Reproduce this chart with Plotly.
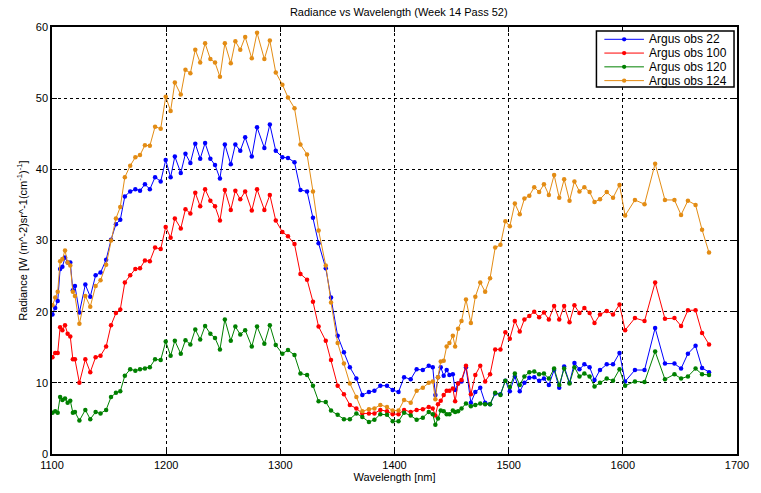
import plotly.graph_objects as go

wavelength = [
    1100.4, 1102.8, 1105.0, 1107.1, 1109.1, 1111.4, 1113.7, 1116.0, 1118.3, 1120.1,
    1124.0, 1129.2, 1133.5, 1138.2, 1142.5, 1147.4, 1151.7, 1156.0, 1159.8, 1163.8,
    1168.5, 1173.0, 1177.1, 1181.4, 1185.7, 1190.3, 1195.2, 1199.6, 1203.9, 1207.6,
    1212.8, 1216.9, 1221.2, 1225.5, 1229.8, 1234.1, 1238.7, 1242.8, 1247.1, 1251.4,
    1256.6, 1260.6, 1264.9, 1269.2, 1275.0, 1279.6, 1286.0, 1290.8, 1296.0, 1301.8,
    1306.7, 1312.4, 1317.6, 1323.4, 1328.6, 1333.5, 1339.8, 1344.4, 1350.2, 1355.7,
    1360.9, 1366.6, 1371.8, 1377.6, 1382.4, 1387.6, 1393.4, 1398.4, 1403.5, 1408.4,
    1414.2, 1419.4, 1424.8, 1430.0, 1433.5, 1435.8, 1438.1, 1440.5, 1443.1, 1445.7,
    1448.1, 1451.1, 1453.1, 1455.7, 1458.7, 1462.6, 1466.9, 1470.8, 1475.1, 1479.4,
    1483.7, 1488.2, 1492.8, 1497.1, 1501.0, 1505.4, 1509.7, 1513.8, 1518.1, 1522.4,
    1526.7, 1530.9, 1535.2, 1539.8, 1544.3, 1548.6, 1553.3, 1557.6, 1562.0, 1566.3,
    1570.9, 1575.2, 1580.0, 1585.9, 1591.4, 1597.1, 1602.0, 1610.6, 1619.0, 1628.3,
    1636.9, 1645.2, 1651.0, 1657.0, 1663.7, 1669.4, 1675.5,
]

obs22 = [
    19.6, 20.5, 21.5, 26.0, 26.3, 27.6, 26.9, 26.9, 23.0, 23.6,
    19.9, 23.8, 22.1, 25.1, 25.5, 27.3, 30.1, 32.3, 32.9, 36.2,
    36.9, 37.2, 37.0, 37.9, 37.2, 38.9, 38.3, 41.3, 38.9, 41.8,
    39.5, 42.2, 40.9, 43.6, 41.5, 43.7, 41.5, 40.6, 38.7, 43.5,
    40.7, 43.5, 42.6, 44.5, 41.8, 45.9, 43.0, 46.3, 42.6, 41.7,
    41.6, 41.0, 37.1, 36.9, 33.2, 29.6, 26.1, 22.0, 16.6, 14.3,
    12.2, 10.6, 8.3, 8.7, 8.9, 9.6, 9.6, 9.0, 8.7, 10.8,
    10.5, 11.9, 11.8, 12.4, 12.2, 8.3, 10.8, 12.2, 11.0, 11.8,
    11.1, 11.2, 9.0, 9.9, 10.2, 12.2, 7.2, 8.7, 9.3, 7.2,
    7.0, 8.5, 8.4, 10.3, 8.8, 10.9, 8.8, 10.0, 10.7, 10.8,
    10.3, 10.6, 9.7, 11.8, 9.3, 12.3, 10.0, 12.8, 11.9, 12.6,
    12.2, 10.4, 11.8, 12.6, 12.6, 14.2, 10.2, 11.8, 11.8, 17.7,
    12.7, 12.7, 12.0, 14.1, 15.2, 12.1, 11.5,
]

obs100 = [
    13.6, 14.2, 14.2, 17.8, 17.4, 18.1, 16.9, 16.5, 13.3, 13.3,
    10.0, 13.3, 11.5, 13.6, 13.8, 15.1, 18.1, 19.8, 20.3, 24.1,
    25.1, 26.0, 26.1, 27.2, 27.1, 29.0, 28.8, 31.9, 30.4, 33.1,
    31.7, 34.4, 33.8, 36.7, 34.8, 37.2, 35.6, 34.8, 32.8, 37.1,
    34.3, 37.0, 35.8, 36.9, 34.2, 37.2, 34.3, 36.4, 32.8, 31.2,
    30.6, 29.5, 25.3, 24.5, 21.4, 17.9, 15.9, 13.2, 9.6, 8.4,
    6.9, 6.4, 5.7, 5.7, 5.7, 6.2, 6.0, 5.6, 5.6, 6.2,
    5.9, 6.2, 6.3, 6.6, 6.4, 5.4, 7.0, 7.5, 8.3, 8.9,
    8.9, 9.2, 7.4, 9.9, 10.4, 12.4, 8.4, 11.1, 12.4, 10.2,
    11.2, 14.7, 14.7, 17.1, 16.2, 18.7, 17.2, 18.9, 19.4, 20.0,
    19.2, 19.9, 18.9, 20.8, 18.9, 20.8, 18.5, 20.9, 19.8, 20.5,
    19.8, 18.4, 19.6, 20.1, 19.6, 21.0, 17.4, 19.1, 18.7, 24.1,
    19.0, 19.1, 18.0, 20.2, 20.2, 17.0, 15.4,
]

obs120 = [
    5.8, 6.0, 5.8, 8.0, 7.6, 7.8, 7.2, 7.5, 5.8, 5.9,
    4.7, 6.2, 4.9, 5.9, 5.7, 6.2, 8.0, 8.6, 8.8, 11.0,
    11.9, 11.7, 11.9, 12.0, 12.2, 13.3, 13.2, 15.8, 13.8, 15.9,
    14.1, 16.0, 15.4, 17.5, 16.1, 18.0, 16.9, 16.3, 14.7, 18.9,
    15.9, 17.9, 16.8, 17.4, 15.1, 17.9, 15.5, 18.1, 15.3, 14.1,
    14.6, 13.9, 11.3, 11.1, 9.6, 7.4, 7.3, 6.1, 5.5, 4.9,
    4.9, 5.7, 5.2, 4.5, 4.8, 5.6, 5.5, 4.6, 4.6, 5.8,
    5.4, 4.8, 5.1, 5.9, 5.6, 4.1, 5.0, 6.1, 6.0, 5.6,
    5.6, 6.1, 5.9, 6.0, 6.4, 7.1, 6.7, 6.9, 7.1, 7.0,
    7.0, 8.6, 8.3, 10.3, 9.4, 11.3, 9.7, 10.9, 11.5, 11.6,
    11.2, 11.3, 10.6, 12.0, 9.7, 12.0, 9.9, 12.2, 10.9, 11.3,
    10.9, 9.5, 10.0, 10.6, 10.3, 11.9, 9.6, 10.2, 10.1, 14.4,
    10.5, 11.2, 10.6, 10.9, 12.0, 11.2, 11.1,
]

obs124 = [
    20.9, 22.0, 22.8, 27.1, 27.4, 28.6, 26.9, 26.5, 22.8, 22.2,
    18.3, 22.2, 20.7, 23.6, 24.4, 26.6, 30.0, 33.1, 34.7, 38.9,
    40.5, 41.7, 42.0, 43.4, 43.3, 46.0, 45.7, 50.2, 48.2, 52.2,
    50.5, 54.0, 53.5, 56.8, 55.0, 57.7, 55.5, 55.0, 53.0, 57.7,
    54.9, 58.0, 56.8, 58.6, 55.6, 59.2, 55.5, 58.1, 53.6, 51.9,
    50.1, 48.6, 43.5, 42.1, 36.9, 31.4, 26.5, 21.3, 15.6, 12.7,
    9.9, 8.0, 6.0, 6.3, 6.4, 6.9, 6.6, 6.1, 6.1, 7.6,
    7.2, 8.9, 9.3, 10.0, 10.2, 7.7, 10.8, 13.0, 13.1, 15.1,
    15.6, 16.6, 15.1, 17.6, 18.7, 21.7, 18.4, 22.1, 24.1, 22.8,
    24.7, 29.0, 29.4, 32.7, 32.0, 35.2, 33.7, 35.9, 36.3, 37.5,
    36.8, 37.9, 36.4, 39.2, 36.0, 38.6, 35.6, 38.3, 36.9, 37.5,
    36.8, 35.4, 35.8, 36.8, 36.0, 37.8, 33.5, 35.7, 35.1, 40.8,
    35.7, 35.7, 33.6, 35.6, 35.0, 31.5, 28.3,
]

series_names = ["Argus obs 22", "Argus obs 100", "Argus obs 120", "Argus obs 124"]
series_values = [obs22, obs100, obs120, obs124]
colors = ["#0000FF", "#FF0000", "#008000", "#E38C14"]

x_ticks = [1100, 1200, 1300, 1400, 1500, 1600, 1700]
y_ticks = [0, 10, 20, 30, 40, 50, 60]

fig = go.Figure()
for name, vals, col in zip(series_names, series_values, colors):
    fig.add_trace(go.Scatter(
        x=wavelength, y=vals, name=name, mode="lines+markers",
        line=dict(color=col, width=1),
        marker=dict(color=col, size=4.5),
        showlegend=False,
    ))

font_family = "Liberation Sans, Arial, sans-serif"
axis_common = dict(
    showline=True, linecolor="black", linewidth=1.5, mirror="ticks",
    ticks="inside", ticklen=5, tickcolor="black",
    showgrid=True, gridcolor="black", griddash="dot", gridwidth=1,
    zeroline=False, tickfont=dict(size=11, color="black", family=font_family),
)

# ---- compact legend box (paper coordinates: plot area spans 692 x 434 px) ----
W_PX, H_PX = 692.0, 434.0
box = dict(x0=1 - 3 / W_PX - 139 / W_PX, x1=1 - 3 / W_PX, y1=1 - 4 / H_PX, y0=1 - 61 / H_PX)
row_h = 14 / H_PX
first_row = box["y1"] - 8.5 / H_PX
line_x0 = box["x0"] + 8 / W_PX
line_x1 = box["x0"] + 48 / W_PX
text_x = box["x0"] + 51 / W_PX

shapes = [dict(type="rect", xref="paper", yref="paper", x0=box["x0"], x1=box["x1"],
               y0=box["y0"], y1=box["y1"], line=dict(color="black", width=1.5),
               fillcolor="white", layer="above")]
annotations = []
for i, (name, col) in enumerate(zip(series_names, colors)):
    yy = first_row - i * row_h
    shapes.append(dict(type="line", xref="paper", yref="paper", x0=line_x0, x1=line_x1,
                       y0=yy, y1=yy, line=dict(color=col, width=1), layer="above"))
    xm = (line_x0 + line_x1) / 2
    shapes.append(dict(type="circle", xref="paper", yref="paper",
                       x0=xm - 2.2 / W_PX, x1=xm + 2.2 / W_PX,
                       y0=yy - 2.2 / H_PX, y1=yy + 2.2 / H_PX,
                       fillcolor=col, line=dict(color=col, width=0), layer="above"))
    annotations.append(dict(text=name, xref="paper", yref="paper", x=text_x, y=yy,
                            xanchor="left", yanchor="middle", showarrow=False,
                            font=dict(size=12, color="black", family=font_family)))

fig.update_layout(
    width=761, height=493,
    margin=dict(l=52, r=17, t=27, b=32),
    paper_bgcolor="white", plot_bgcolor="white",
    font=dict(family=font_family, size=11, color="black"),
    title=dict(text="Radiance vs Wavelength (Week 14 Pass 52)", x=0.524, xanchor="center",
               y=0.975, yanchor="middle", font=dict(size=11, color="black")),
    xaxis=dict(range=[1100, 1700], tickvals=x_ticks,
               title=dict(text="Wavelength [nm]", standoff=2, font=dict(size=11)),
               **axis_common),
    yaxis=dict(range=[0, 60], tickvals=y_ticks,
               title=dict(text="Radiance [W (m^-2)sr^-1(cm<sup>-1</sup>)<sup>-1</sup>]",
                          standoff=6, font=dict(size=11)),
               **axis_common),
    shapes=shapes,
    annotations=annotations,
    showlegend=False,
)

fig.write_html("out.html")
